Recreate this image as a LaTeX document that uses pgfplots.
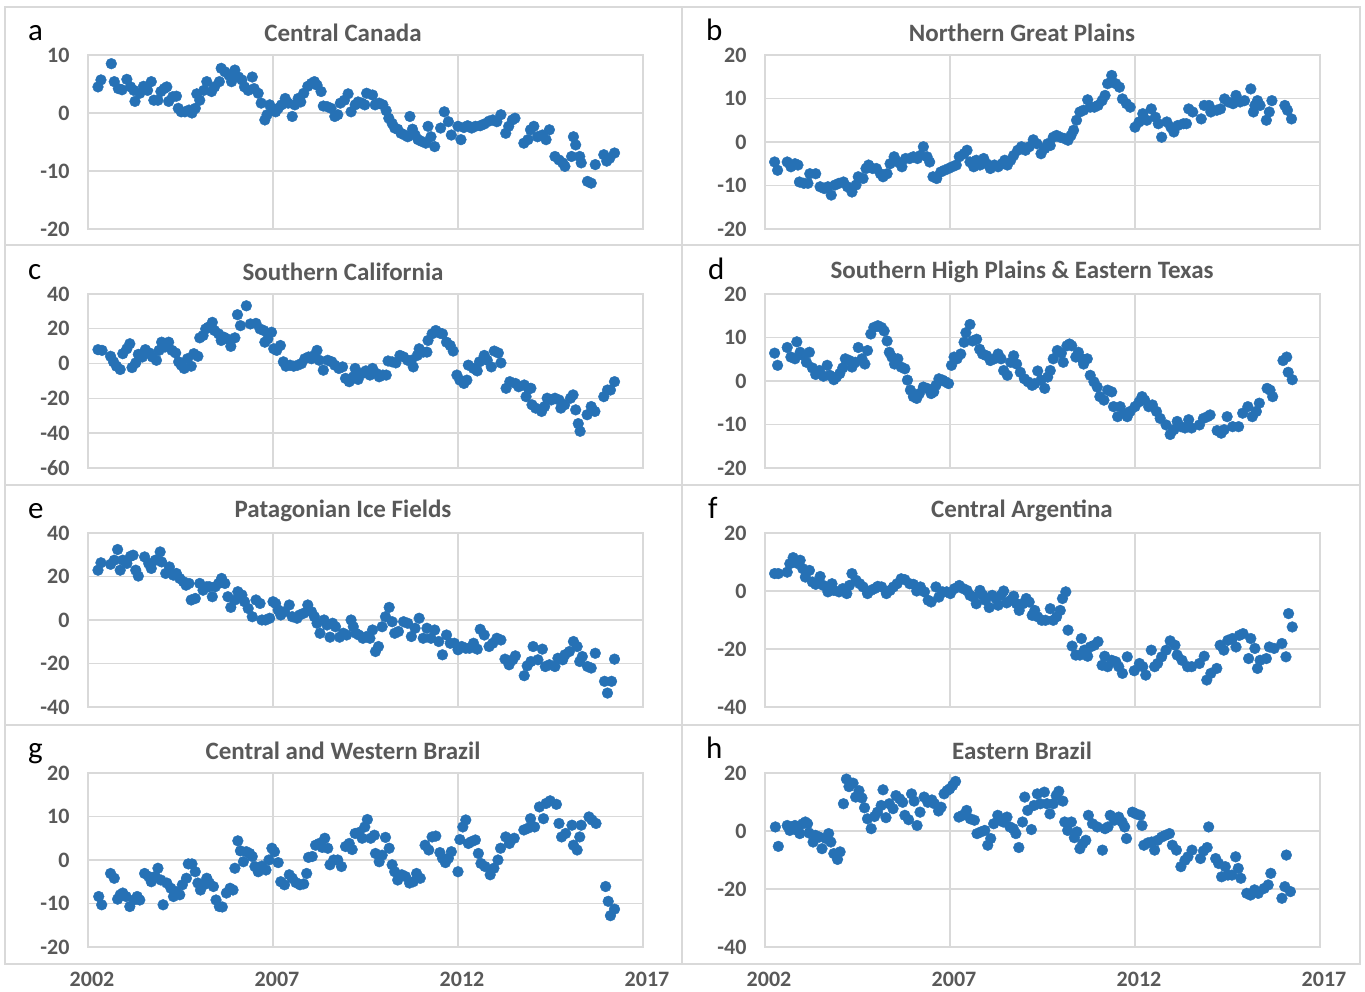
\documentclass[border=0pt]{standalone}
\usepackage{fontspec}
\setmainfont{Carlito}
\usepackage{pgfplots}
\pgfplotsset{compat=1.18}
\definecolor{dotblue}{RGB}{38,113,181}
\definecolor{gridgray}{RGB}{217,217,217}
\definecolor{labgray}{RGB}{89,89,89}
\pgfplotsset{
 panel/.style={
  scale only axis, width=555pt, height=174pt, anchor=south west,
  xmin=2002, xmax=2017, xtick={2002,2007,2012,2017}, xticklabels={},
  grid=major, major grid style={draw=gridgray, line width=1.4pt},
  axis line style={draw=gridgray, line width=1.4pt},
  major tick length=0pt,
  /pgf/number format/assume math mode=true,
  yticklabel style={font=\fontsize{22}{22}\selectfont\bfseries, text=labgray, xshift=-15pt},
  xticklabel style={font=\fontsize{22}{22}\selectfont\bfseries, text=labgray, yshift=-22pt, xshift=4pt},
 },
 dots/.style={only marks, mark=*, color=dotblue, mark size=5.4pt},
}
\newcommand{\ttl}[3]{\node[font=\fontsize{25}{25}\selectfont\bfseries, text=labgray] at (#1pt,#2pt) {#3};}
\newcommand{\lett}[3]{\node[font=\fontsize{31}{31}\selectfont, anchor=base west, inner sep=0pt] at (#1pt,#2pt) {#3};}
\begin{document}
\begin{tikzpicture}
\path[use as bounding box] (0pt,0pt) rectangle (1365pt,992pt);
\draw[gridgray, line width=1.5pt] (5pt,28pt) rectangle (1360pt,985pt);
\draw[gridgray, line width=1.5pt] (682pt,28pt) -- (682pt,985pt);
\draw[gridgray, line width=1.5pt] (5pt,747pt) -- (1360pt,747pt);
\draw[gridgray, line width=1.5pt] (5pt,507pt) -- (1360pt,507pt);
\draw[gridgray, line width=1.5pt] (5pt,267pt) -- (1360pt,267pt);

\ttl{343}{959}{Central Canada}
\ttl{1022}{959}{Northern Great Plains}
\ttl{343}{720}{Southern California}
\ttl{1022}{720}{Southern High Plains \& Eastern Texas}
\ttl{343}{481}{Patagonian Ice Fields}
\ttl{1022}{481}{Central Argentina}
\ttl{343}{241}{Central and Western Brazil}
\ttl{1022}{241}{Eastern Brazil}
\lett{28}{951}{a}
\lett{706}{951}{b}
\lett{28}{712}{c}
\lett{708}{712}{d}
\lett{28}{473}{e}
\lett{708}{473}{f}
\lett{28}{233}{g}
\lett{706}{233}{h}

% a Central Canada
\begin{axis}[panel, at={(88pt,763pt)}, ymin=-20, ymax=10, ytick={-20,-10,0,10}]
\addplot[dots] coordinates {(2002.27,4.5) (2002.35,5.7) (2002.63,8.5) (2002.71,5.4) (2002.82,4.2) (2002.92,4.0) (2003.05,5.8) (2003.15,4.5) (2003.24,3.9) (2003.27,2.0) (2003.40,3.4) (2003.50,4.6) (2003.61,3.9) (2003.71,5.4) (2003.78,2.2) (2003.89,2.2) (2003.97,3.7) (2004.06,4.2) (2004.13,4.5) (2004.18,2.0) (2004.29,2.8) (2004.39,2.9) (2004.44,0.8) (2004.52,0.2) (2004.62,0.2) (2004.73,0.5) (2004.81,0.0) (2004.90,0.8) (2004.94,3.3) (2005.02,2.2) (2005.13,3.9) (2005.21,5.4) (2005.34,3.7) (2005.42,4.5) (2005.55,5.4) (2005.60,7.7) (2005.70,7.1) (2005.81,6.5) (2005.88,5.4) (2005.97,7.4) (2006.07,6.2) (2006.16,5.7) (2006.23,4.5) (2006.33,3.9) (2006.44,6.2) (2006.49,4.2) (2006.60,3.4) (2006.68,1.7) (2006.78,-1.2) (2006.84,-0.3) (2006.91,1.4) (2007.00,0.5) (2007.07,0.2) (2007.14,0.8) (2007.23,1.4) (2007.33,2.5) (2007.41,1.7) (2007.52,-0.6) (2007.59,1.4) (2007.68,2.5) (2007.75,1.9) (2007.83,3.4) (2007.94,4.6) (2008.04,5.1) (2008.12,5.4) (2008.19,4.8) (2008.30,3.7) (2008.36,1.2) (2008.46,1.1) (2008.57,0.8) (2008.67,-0.6) (2008.75,-0.3) (2008.82,1.7) (2008.93,2.2) (2009.03,3.3) (2009.11,0.2) (2009.22,1.4) (2009.30,1.9) (2009.40,1.7) (2009.48,1.4) (2009.53,3.4) (2009.69,3.1) (2009.76,1.4) (2009.87,1.7) (2009.97,1.4) (2010.06,0.4) (2010.13,-0.9) (2010.22,-1.8) (2010.29,-2.6) (2010.37,-2.8) (2010.46,-3.5) (2010.56,-3.8) (2010.64,-4.1) (2010.70,-0.6) (2010.77,-2.8) (2010.84,-3.8) (2010.92,-4.6) (2011.02,-4.9) (2011.13,-5.2) (2011.19,-2.3) (2011.27,-4.1) (2011.37,-5.8) (2011.53,-2.6) (2011.63,0.2) (2011.74,-1.5) (2011.82,-3.8) (2012.00,-2.3) (2012.08,-4.6) (2012.16,-2.5) (2012.26,-2.2) (2012.37,-2.6) (2012.47,-2.3) (2012.60,-2.2) (2012.71,-1.9) (2012.84,-1.4) (2012.94,-1.2) (2013.05,-1.5) (2013.16,-0.3) (2013.29,-3.5) (2013.37,-2.3) (2013.47,-1.2) (2013.54,-0.9) (2013.78,-5.2) (2013.89,-4.6) (2013.96,-2.9) (2014.05,-2.3) (2014.15,-4.1) (2014.28,-3.8) (2014.38,-4.6) (2014.47,-2.9) (2014.62,-7.5) (2014.73,-8.1) (2014.83,-8.6) (2014.89,-9.2) (2015.07,-7.5) (2015.12,-4.1) (2015.18,-5.5) (2015.29,-7.5) (2015.33,-8.6) (2015.50,-11.8) (2015.60,-12.1) (2015.71,-8.9) (2015.94,-7.2) (2016.02,-8.3) (2016.10,-7.8) (2016.23,-6.9)};
\end{axis}

% b Northern Great Plains
\begin{axis}[panel, at={(765pt,763pt)}, ymin=-20, ymax=20, ytick={-20,-10,0,10,20}]
\addplot[dots] coordinates {(2002.26,-4.6) (2002.34,-6.5) (2002.60,-4.6) (2002.70,-5.7) (2002.81,-5.0) (2002.89,-5.3) (2002.93,-9.2) (2003.05,-9.5) (2003.16,-9.5) (2003.21,-7.3) (2003.37,-7.3) (2003.49,-10.3) (2003.60,-10.7) (2003.70,-10.3) (2003.79,-12.2) (2003.89,-9.9) (2004.00,-9.5) (2004.12,-9.2) (2004.23,-10.3) (2004.35,-11.5) (2004.46,-9.9) (2004.52,-8.0) (2004.65,-8.4) (2004.73,-6.1) (2004.80,-5.3) (2004.91,-6.1) (2005.01,-6.1) (2005.12,-7.3) (2005.19,-8.0) (2005.30,-7.3) (2005.38,-5.0) (2005.49,-3.4) (2005.59,-4.6) (2005.70,-5.7) (2005.80,-3.8) (2005.91,-3.8) (2006.01,-3.4) (2006.12,-3.8) (2006.20,-3.1) (2006.28,-1.1) (2006.38,-3.4) (2006.45,-4.6) (2006.54,-8.0) (2006.64,-8.4) (2006.75,-6.9) (2006.85,-6.5) (2006.96,-6.1) (2007.06,-5.7) (2007.17,-5.3) (2007.25,-3.4) (2007.38,-2.7) (2007.46,-1.9) (2007.54,-4.6) (2007.64,-5.7) (2007.71,-4.2) (2007.81,-5.3) (2007.91,-3.8) (2007.99,-5.0) (2008.09,-6.1) (2008.20,-5.3) (2008.30,-5.7) (2008.41,-5.0) (2008.48,-4.2) (2008.55,-5.3) (2008.64,-4.2) (2008.72,-3.1) (2008.83,-1.9) (2008.93,-1.1) (2009.04,-1.9) (2009.14,-1.1) (2009.25,0.5) (2009.35,-0.4) (2009.46,-2.7) (2009.56,-1.5) (2009.64,-0.4) (2009.71,-0.8) (2009.79,1.1) (2009.88,1.5) (2009.98,1.1) (2010.09,0.8) (2010.19,0.4) (2010.27,1.5) (2010.34,2.7) (2010.42,5.0) (2010.51,6.9) (2010.61,7.3) (2010.72,9.7) (2010.79,8.0) (2010.90,8.0) (2011.00,8.4) (2011.11,9.5) (2011.19,10.7) (2011.26,13.4) (2011.37,15.3) (2011.48,13.4) (2011.58,12.6) (2011.66,9.9) (2011.77,8.8) (2011.87,8.0) (2012.00,3.4) (2012.11,4.6) (2012.21,6.5) (2012.32,5.0) (2012.44,7.6) (2012.55,5.7) (2012.63,4.2) (2012.72,1.1) (2012.86,4.6) (2012.97,3.4) (2013.05,2.3) (2013.16,3.8) (2013.31,4.2) (2013.39,4.2) (2013.45,7.6) (2013.56,6.9) (2013.79,5.3) (2013.87,8.4) (2014.00,8.4) (2014.05,6.9) (2014.21,7.3) (2014.31,7.6) (2014.42,9.9) (2014.52,9.2) (2014.65,8.8) (2014.73,10.7) (2014.84,9.2) (2014.96,9.5) (2015.13,12.2) (2015.20,6.9) (2015.24,8.4) (2015.31,9.5) (2015.38,8.4) (2015.55,5.0) (2015.63,6.9) (2015.70,9.5) (2016.05,8.4) (2016.12,7.3) (2016.23,5.3)};
\end{axis}

% c Southern California
\begin{axis}[panel, at={(88pt,524pt)}, ymin=-60, ymax=40, ytick={-60,-40,-20,0,20,40}]
\addplot[dots] coordinates {(2002.27,8.0) (2002.38,7.6) (2002.61,4.2) (2002.69,1.0) (2002.77,-1.5) (2002.87,-3.4) (2002.94,5.7) (2003.05,8.5) (2003.13,11.4) (2003.19,-2.3) (2003.29,0.4) (2003.36,5.3) (2003.47,3.8) (2003.55,8.0) (2003.66,6.1) (2003.74,3.8) (2003.85,1.9) (2003.92,7.6) (2003.99,12.3) (2004.08,9.5) (2004.18,12.3) (2004.27,7.6) (2004.37,6.1) (2004.45,1.0) (2004.52,-0.9) (2004.60,-2.8) (2004.69,2.8) (2004.79,-1.5) (2004.86,5.7) (2004.97,4.2) (2005.02,14.8) (2005.11,16.1) (2005.18,19.9) (2005.25,20.9) (2005.36,23.7) (2005.42,19.0) (2005.53,17.1) (2005.60,13.3) (2005.67,15.2) (2005.76,14.2) (2005.86,9.9) (2005.97,14.8) (2006.04,28.1) (2006.12,21.8) (2006.28,33.2) (2006.39,22.8) (2006.54,23.1) (2006.65,19.9) (2006.75,19.0) (2006.78,12.3) (2006.86,14.2) (2006.96,18.0) (2007.02,8.5) (2007.10,7.6) (2007.20,10.4) (2007.28,1.0) (2007.35,-1.5) (2007.46,-0.9) (2007.56,-1.5) (2007.67,-0.9) (2007.77,0.0) (2007.86,2.8) (2007.96,3.8) (2008.04,2.8) (2008.12,4.7) (2008.19,7.6) (2008.25,1.9) (2008.36,-3.8) (2008.48,1.9) (2008.59,1.0) (2008.67,-0.9) (2008.78,-2.8) (2008.88,-1.9) (2008.96,-8.5) (2009.06,-10.4) (2009.17,-7.6) (2009.22,-2.8) (2009.30,-9.1) (2009.41,-5.7) (2009.51,-4.2) (2009.62,-6.6) (2009.69,-2.8) (2009.80,-5.7) (2009.87,-7.6) (2009.97,-6.6) (2010.06,-6.6) (2010.11,1.5) (2010.22,1.0) (2010.32,0.4) (2010.43,4.7) (2010.53,3.8) (2010.64,1.9) (2010.74,1.9) (2010.79,-1.9) (2010.90,4.7) (2010.95,8.5) (2011.06,6.6) (2011.16,6.6) (2011.19,13.3) (2011.30,17.1) (2011.40,19.0) (2011.51,17.5) (2011.58,17.1) (2011.69,12.3) (2011.79,10.4) (2011.87,7.2) (2011.97,-6.6) (2012.05,-9.5) (2012.16,-11.4) (2012.24,-9.5) (2012.28,-0.9) (2012.42,-2.8) (2012.52,-4.2) (2012.58,1.0) (2012.71,4.7) (2012.79,1.9) (2012.90,-1.9) (2012.98,7.2) (2013.09,6.1) (2013.16,0.4) (2013.30,-14.2) (2013.40,-10.4) (2013.55,-11.4) (2013.64,-13.3) (2013.79,-12.3) (2013.90,-14.2) (2013.97,-14.2) (2013.84,-19.0) (2014.00,-23.7) (2014.10,-25.6) (2014.26,-27.5) (2014.34,-24.7) (2014.41,-19.9) (2014.52,-20.9) (2014.62,-19.9) (2014.73,-20.9) (2014.78,-25.6) (2014.88,-23.7) (2015.04,-19.9) (2015.11,-18.0) (2015.18,-26.6) (2015.25,-34.5) (2015.30,-38.9) (2015.49,-29.4) (2015.60,-24.7) (2015.70,-27.5) (2015.94,-19.0) (2016.04,-15.2) (2016.12,-15.2) (2016.23,-10.4)};
\end{axis}

% d Southern High Plains & Eastern Texas
\begin{axis}[panel, at={(765pt,524pt)}, ymin=-20, ymax=20, ytick={-20,-10,0,10,20}]
\addplot[dots] coordinates {(2002.26,6.4) (2002.34,3.6) (2002.60,7.7) (2002.70,5.5) (2002.81,5.1) (2002.86,9.0) (2002.95,6.6) (2003.05,5.8) (2003.12,4.3) (2003.20,6.6) (2003.28,3.0) (2003.37,1.5) (2003.47,2.4) (2003.58,1.1) (2003.68,3.6) (2003.75,1.3) (2003.86,0.3) (2003.93,0.9) (2004.02,1.7) (2004.10,3.0) (2004.17,5.1) (2004.28,4.7) (2004.35,3.2) (2004.44,4.3) (2004.52,7.7) (2004.62,5.1) (2004.70,3.9) (2004.77,7.0) (2004.86,10.8) (2004.94,12.3) (2005.05,12.7) (2005.15,12.3) (2005.22,11.5) (2005.30,9.2) (2005.36,6.6) (2005.43,5.5) (2005.50,3.9) (2005.59,5.1) (2005.68,3.2) (2005.78,2.8) (2005.85,0.2) (2005.93,-2.1) (2006.01,-3.6) (2006.10,-4.0) (2006.17,-2.9) (2006.28,-1.4) (2006.38,-1.7) (2006.49,-2.9) (2006.56,-2.5) (2006.62,-1.0) (2006.70,0.5) (2006.80,0.2) (2006.88,-0.2) (2006.96,-0.6) (2007.04,3.6) (2007.11,5.5) (2007.19,5.1) (2007.29,6.2) (2007.38,8.9) (2007.43,11.1) (2007.54,13.0) (2007.61,9.2) (2007.72,9.6) (2007.80,7.3) (2007.88,6.2) (2007.99,5.8) (2008.09,4.7) (2008.20,5.1) (2008.30,6.2) (2008.38,5.1) (2008.45,2.4) (2008.55,1.3) (2008.64,4.3) (2008.72,5.8) (2008.80,3.9) (2008.90,2.0) (2009.01,0.5) (2009.11,-0.2) (2009.22,-1.0) (2009.29,-0.6) (2009.37,2.3) (2009.46,0.2) (2009.56,-1.7) (2009.64,0.9) (2009.71,2.4) (2009.79,5.1) (2009.90,7.0) (2010.01,6.4) (2010.06,4.3) (2010.16,8.1) (2010.23,8.5) (2010.29,8.1) (2010.40,5.5) (2010.47,6.6) (2010.57,5.1) (2010.61,3.9) (2010.71,5.1) (2010.79,1.3) (2010.89,-0.2) (2010.98,-1.4) (2011.05,-3.6) (2011.16,-4.4) (2011.26,-2.1) (2011.37,-2.5) (2011.42,-5.9) (2011.53,-8.2) (2011.60,-5.9) (2011.70,-7.4) (2011.79,-8.2) (2011.87,-7.0) (2012.00,-5.9) (2012.11,-4.8) (2012.19,-3.6) (2012.26,-4.4) (2012.37,-5.9) (2012.47,-5.5) (2012.58,-7.0) (2012.68,-8.6) (2012.84,-10.1) (2012.95,-12.3) (2013.05,-11.2) (2013.14,-9.3) (2013.24,-10.5) (2013.35,-10.8) (2013.45,-8.9) (2013.53,-10.8) (2013.74,-10.1) (2013.85,-8.6) (2013.96,-8.2) (2014.03,-7.8) (2014.22,-11.4) (2014.33,-12.0) (2014.41,-11.2) (2014.49,-8.2) (2014.64,-10.5) (2014.80,-10.5) (2014.91,-7.4) (2015.05,-5.9) (2015.17,-8.2) (2015.28,-7.0) (2015.36,-5.1) (2015.57,-1.7) (2015.65,-2.1) (2015.72,-3.6) (2016.00,4.7) (2016.10,5.5) (2016.14,2.0) (2016.25,0.3)};
\end{axis}

% e Patagonian Ice Fields
\begin{axis}[panel, at={(88pt,285pt)}, ymin=-40, ymax=40, ytick={-40,-20,0,20,40}]
\addplot[dots] coordinates {(2002.27,22.9) (2002.35,26.3) (2002.61,25.6) (2002.71,27.5) (2002.80,32.4) (2002.87,22.9) (2002.94,27.5) (2003.05,26.0) (2003.15,29.3) (2003.22,29.8) (2003.29,22.9) (2003.36,20.2) (2003.53,29.0) (2003.64,26.0) (2003.71,23.7) (2003.82,27.5) (2003.95,31.3) (2003.99,26.7) (2004.10,21.4) (2004.20,24.4) (2004.31,20.6) (2004.39,21.4) (2004.48,19.1) (2004.58,17.6) (2004.65,16.0) (2004.73,16.8) (2004.79,9.2) (2004.90,9.9) (2005.02,16.8) (2005.11,13.7) (2005.21,15.3) (2005.28,15.3) (2005.36,10.7) (2005.44,15.3) (2005.53,16.8) (2005.61,19.1) (2005.70,16.8) (2005.78,10.7) (2005.86,5.8) (2005.97,9.2) (2006.05,13.0) (2006.16,11.5) (2006.23,8.4) (2006.33,5.3) (2006.44,1.5) (2006.54,9.2) (2006.65,7.6) (2006.70,0.0) (2006.80,0.0) (2006.91,0.8) (2007.00,8.4) (2007.07,7.6) (2007.14,4.6) (2007.21,2.3) (2007.31,3.8) (2007.44,6.9) (2007.52,1.5) (2007.65,0.8) (2007.72,2.3) (2007.83,3.1) (2007.94,6.9) (2008.04,3.8) (2008.12,1.5) (2008.19,-1.5) (2008.27,-6.1) (2008.38,0.0) (2008.46,-2.3) (2008.54,-7.9) (2008.61,-1.5) (2008.69,-3.1) (2008.80,-7.9) (2008.90,-6.1) (2008.99,-6.9) (2009.11,0.0) (2009.17,-3.1) (2009.24,-6.1) (2009.32,-6.9) (2009.43,-8.4) (2009.53,-7.6) (2009.62,-8.4) (2009.69,-4.6) (2009.77,-14.5) (2009.85,-12.2) (2009.95,-3.1) (2010.04,1.5) (2010.14,5.8) (2010.22,-0.8) (2010.29,-6.1) (2010.39,-5.3) (2010.53,-0.8) (2010.64,-1.5) (2010.74,-7.6) (2010.84,-3.8) (2010.95,0.8) (2011.06,-8.4) (2011.16,-3.8) (2011.27,-8.4) (2011.37,-4.6) (2011.48,-9.9) (2011.58,-16.0) (2011.69,-6.9) (2011.79,-10.7) (2011.90,-10.7) (2012.00,-13.7) (2012.10,-12.2) (2012.21,-13.0) (2012.31,-13.0) (2012.42,-10.7) (2012.52,-13.4) (2012.60,-4.3) (2012.71,-6.9) (2012.84,-12.2) (2012.94,-10.7) (2013.05,-8.4) (2013.16,-9.2) (2013.27,-18.0) (2013.38,-20.6) (2013.48,-18.3) (2013.55,-16.5) (2013.79,-25.6) (2013.87,-21.1) (2013.97,-19.1) (2014.03,-12.2) (2014.16,-18.3) (2014.28,-13.4) (2014.36,-21.4) (2014.47,-20.6) (2014.62,-21.4) (2014.70,-17.6) (2014.83,-18.3) (2014.89,-16.0) (2015.01,-14.5) (2015.12,-9.9) (2015.22,-12.2) (2015.29,-19.1) (2015.36,-16.8) (2015.50,-21.4) (2015.60,-22.1) (2015.71,-15.3) (2015.96,-28.2) (2016.04,-33.6) (2016.15,-28.2) (2016.23,-18.0)};
\end{axis}

% f Central Argentina
\begin{axis}[panel, at={(765pt,285pt)}, ymin=-40, ymax=20, ytick={-40,-20,0,20}]
\addplot[dots] coordinates {(2002.26,6.0) (2002.36,6.0) (2002.60,6.5) (2002.67,9.4) (2002.76,11.5) (2002.86,9.6) (2002.95,10.6) (2003.02,7.7) (2003.09,4.8) (2003.20,7.1) (2003.28,3.1) (2003.37,2.3) (2003.49,5.0) (2003.58,1.9) (2003.70,-0.3) (2003.81,2.5) (2003.86,0.2) (2004.00,-0.3) (2004.10,0.8) (2004.21,-0.9) (2004.28,1.9) (2004.35,6.0) (2004.46,3.7) (2004.56,2.5) (2004.65,1.4) (2004.77,-0.9) (2004.86,0.2) (2004.96,0.8) (2005.05,1.6) (2005.15,1.4) (2005.28,-0.9) (2005.38,0.2) (2005.47,1.4) (2005.57,2.5) (2005.68,4.2) (2005.78,3.9) (2005.91,2.5) (2006.01,2.3) (2006.10,0.0) (2006.20,1.4) (2006.31,-0.3) (2006.41,-3.2) (2006.49,-3.8) (2006.62,1.4) (2006.70,-2.1) (2006.80,-0.3) (2006.91,-0.3) (2007.01,-0.9) (2007.12,0.8) (2007.25,1.9) (2007.36,0.8) (2007.46,0.2) (2007.54,-1.5) (2007.64,-2.1) (2007.71,-4.4) (2007.81,0.2) (2007.89,-1.5) (2007.96,-3.2) (2008.06,-5.7) (2008.14,-1.5) (2008.24,-2.6) (2008.30,-4.9) (2008.38,-1.5) (2008.45,0.0) (2008.53,-4.1) (2008.64,-3.2) (2008.72,-1.8) (2008.80,-4.4) (2008.87,-6.7) (2008.97,-4.4) (2009.06,-2.6) (2009.14,-3.8) (2009.22,-8.4) (2009.29,-6.7) (2009.37,-8.9) (2009.48,-10.1) (2009.58,-10.1) (2009.71,-6.1) (2009.79,-10.1) (2009.88,-8.9) (2009.98,-6.7) (2010.04,-2.6) (2010.13,-0.3) (2010.19,-13.5) (2010.30,-19.0) (2010.40,-22.1) (2010.51,-22.1) (2010.55,-16.4) (2010.63,-20.4) (2010.72,-22.5) (2010.79,-19.3) (2010.90,-18.7) (2011.00,-17.5) (2011.11,-25.6) (2011.18,-22.5) (2011.26,-26.1) (2011.37,-23.9) (2011.48,-24.4) (2011.56,-26.1) (2011.66,-28.4) (2011.79,-22.7) (2011.98,-27.5) (2012.12,-25.0) (2012.21,-26.1) (2012.29,-29.0) (2012.44,-20.4) (2012.53,-26.1) (2012.61,-25.0) (2012.72,-22.7) (2012.84,-20.4) (2012.95,-17.2) (2013.08,-18.7) (2013.14,-22.1) (2013.27,-23.9) (2013.42,-26.1) (2013.53,-26.1) (2013.74,-25.0) (2013.87,-22.5) (2013.94,-30.7) (2014.05,-28.4) (2014.21,-26.7) (2014.30,-18.7) (2014.40,-20.4) (2014.51,-17.0) (2014.63,-16.4) (2014.73,-19.3) (2014.82,-15.3) (2014.92,-14.7) (2015.07,-23.3) (2015.13,-16.4) (2015.24,-19.8) (2015.31,-26.7) (2015.38,-23.9) (2015.55,-23.3) (2015.63,-19.3) (2015.76,-19.8) (2015.97,-18.1) (2016.08,-22.7) (2016.15,-7.8) (2016.25,-12.4)};
\end{axis}

% g Central and Western Brazil
\begin{axis}[panel, at={(88pt,45pt)}, ymin=-20, ymax=20, ytick={-20,-10,0,10,20}, xticklabels={2002,2007,2012,2017}]
\addplot[dots] coordinates {(2002.29,-8.4) (2002.37,-10.3) (2002.61,-3.1) (2002.71,-4.2) (2002.80,-9.0) (2002.87,-8.0) (2002.94,-7.6) (2003.03,-8.4) (2003.13,-10.7) (2003.24,-9.2) (2003.33,-8.4) (2003.40,-9.2) (2003.53,-3.1) (2003.64,-3.8) (2003.71,-5.0) (2003.82,-3.8) (2003.89,-1.9) (2003.97,-4.6) (2004.03,-10.3) (2004.13,-5.3) (2004.24,-6.5) (2004.31,-8.4) (2004.39,-7.3) (2004.48,-8.0) (2004.55,-5.7) (2004.66,-4.2) (2004.71,-0.9) (2004.81,-0.9) (2004.90,-2.7) (2004.97,-5.3) (2005.04,-6.9) (2005.13,-5.7) (2005.21,-4.2) (2005.28,-5.3) (2005.39,-6.1) (2005.46,-9.2) (2005.55,-10.7) (2005.63,-10.8) (2005.74,-7.6) (2005.84,-6.5) (2005.92,-6.9) (2005.97,-1.9) (2006.05,4.4) (2006.12,2.1) (2006.20,-0.4) (2006.28,1.9) (2006.37,1.5) (2006.44,0.8) (2006.51,-1.5) (2006.60,-2.7) (2006.70,-1.4) (2006.81,-2.3) (2006.89,0.0) (2006.97,2.7) (2007.04,1.9) (2007.14,-0.6) (2007.21,-5.0) (2007.31,-5.7) (2007.44,-3.4) (2007.52,-4.2) (2007.62,-5.2) (2007.73,-5.7) (2007.83,-5.5) (2007.91,-3.1) (2007.96,0.6) (2008.06,0.8) (2008.15,3.4) (2008.25,3.8) (2008.33,2.9) (2008.40,5.0) (2008.48,2.7) (2008.54,-1.1) (2008.64,0.0) (2008.75,0.0) (2008.85,-1.5) (2008.96,3.1) (2009.06,3.8) (2009.14,2.4) (2009.22,6.1) (2009.32,6.3) (2009.41,5.0) (2009.48,7.6) (2009.55,9.3) (2009.64,5.0) (2009.74,5.7) (2009.77,1.5) (2009.87,-0.4) (2009.95,1.1) (2010.04,5.2) (2010.14,2.7) (2010.22,-1.1) (2010.29,-2.7) (2010.37,-4.6) (2010.48,-3.4) (2010.58,-3.8) (2010.69,-5.3) (2010.79,-5.0) (2010.88,-3.1) (2010.98,-4.2) (2011.11,3.4) (2011.21,2.3) (2011.30,5.3) (2011.40,5.5) (2011.51,1.7) (2011.58,0.4) (2011.66,-0.6) (2011.74,0.4) (2011.82,1.9) (2012.00,-2.7) (2012.05,4.7) (2012.13,7.6) (2012.21,9.2) (2012.28,3.8) (2012.36,4.2) (2012.47,4.6) (2012.55,1.5) (2012.62,-0.8) (2012.73,-1.5) (2012.87,-3.4) (2012.97,-1.9) (2013.08,0.0) (2013.15,2.7) (2013.29,5.3) (2013.39,3.8) (2013.52,5.0) (2013.78,6.9) (2013.89,7.3) (2013.96,9.5) (2014.07,7.6) (2014.20,12.2) (2014.31,9.5) (2014.38,13.0) (2014.49,13.6) (2014.66,12.8) (2014.73,8.4) (2014.80,5.3) (2014.91,6.1) (2015.08,8.0) (2015.12,3.4) (2015.22,2.3) (2015.29,5.3) (2015.33,8.0) (2015.54,9.9) (2015.62,9.2) (2015.73,8.4) (2015.99,-6.1) (2016.06,-9.5) (2016.12,-12.8) (2016.23,-11.3)};
\end{axis}

% h Eastern Brazil
\begin{axis}[panel, at={(765pt,45pt)}, ymin=-40, ymax=20, ytick={-40,-20,0,20}, xticklabels={2002,2007,2012,2017}]
\addplot[dots] coordinates {(2002.28,1.4) (2002.36,-5.3) (2002.60,1.9) (2002.67,0.2) (2002.73,1.4) (2002.81,1.9) (2002.88,0.2) (2002.94,-0.9) (2003.02,2.5) (2003.09,3.1) (2003.15,2.5) (2003.19,-0.7) (2003.30,-3.8) (2003.36,-1.5) (2003.47,-2.1) (2003.54,-6.1) (2003.65,-2.6) (2003.72,-0.9) (2003.78,-3.8) (2003.86,-7.8) (2003.96,-9.8) (2004.03,-7.2) (2004.12,9.4) (2004.20,17.9) (2004.27,15.3) (2004.38,16.5) (2004.45,11.7) (2004.54,13.9) (2004.62,11.4) (2004.69,8.0) (2004.77,4.2) (2004.87,0.8) (2004.96,5.0) (2005.04,6.5) (2005.14,8.8) (2005.19,14.2) (2005.27,4.6) (2005.36,9.4) (2005.46,7.7) (2005.54,12.2) (2005.64,11.1) (2005.72,9.9) (2005.78,5.4) (2005.88,3.9) (2005.96,12.8) (2006.03,10.3) (2006.11,1.9) (2006.19,6.5) (2006.30,11.7) (2006.40,9.9) (2006.51,10.7) (2006.58,9.4) (2006.69,6.9) (2006.76,8.2) (2006.84,12.8) (2006.92,13.9) (2006.99,14.5) (2007.07,15.7) (2007.15,17.1) (2007.24,4.8) (2007.34,5.4) (2007.45,7.1) (2007.55,4.2) (2007.66,3.7) (2007.73,-0.9) (2007.84,-0.3) (2007.94,0.2) (2008.02,-4.9) (2008.10,-2.6) (2008.18,2.5) (2008.29,5.4) (2008.36,3.7) (2008.44,3.1) (2008.54,4.8) (2008.62,1.4) (2008.71,0.8) (2008.78,-0.9) (2008.86,-5.7) (2008.96,3.1) (2009.02,11.7) (2009.10,7.1) (2009.20,0.5) (2009.27,8.8) (2009.36,12.8) (2009.44,9.4) (2009.55,13.4) (2009.62,9.4) (2009.70,5.9) (2009.79,9.4) (2009.87,12.2) (2009.94,13.7) (2010.05,10.3) (2010.10,3.1) (2010.18,0.2) (2010.28,3.1) (2010.36,-2.3) (2010.43,-0.3) (2010.51,-6.1) (2010.59,-4.3) (2010.67,-3.2) (2010.74,5.4) (2010.85,2.5) (2010.98,1.4) (2011.12,-6.6) (2011.19,0.8) (2011.27,1.4) (2011.33,5.4) (2011.44,3.7) (2011.56,4.8) (2011.65,3.1) (2011.72,1.4) (2011.77,-2.6) (2011.93,6.5) (2012.03,5.9) (2012.14,5.4) (2012.19,1.9) (2012.24,-4.9) (2012.35,-4.1) (2012.45,-3.8) (2012.53,-6.6) (2012.61,-3.2) (2012.72,-2.1) (2012.82,-1.5) (2012.93,-0.9) (2013.01,-4.9) (2013.12,-6.6) (2013.24,-12.3) (2013.35,-10.1) (2013.43,-8.9) (2013.54,-6.6) (2013.77,-9.5) (2013.85,-6.9) (2013.95,-5.7) (2013.99,1.4) (2014.18,-9.5) (2014.26,-11.2) (2014.34,-15.8) (2014.44,-12.3) (2014.51,-15.2) (2014.62,-15.2) (2014.72,-8.9) (2014.79,-12.9) (2014.86,-16.3) (2015.02,-21.5) (2015.12,-22.1) (2015.23,-20.3) (2015.33,-21.5) (2015.49,-19.8) (2015.60,-18.6) (2015.67,-14.6) (2015.97,-23.2) (2016.05,-19.2) (2016.09,-8.3) (2016.20,-20.9)};
\end{axis}
\end{tikzpicture}
\end{document}
